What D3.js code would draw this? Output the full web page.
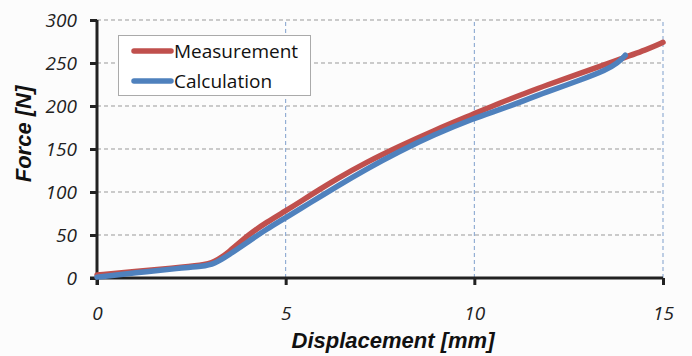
<!DOCTYPE html>
<meta charset="utf-8">
<style>
body { margin: 0; background: #fcfcfc; }
svg { display: block; }
.tick-label { font: italic 19px "Open Sans", sans-serif; fill: #222; }
.axis-title { font: bold italic 22px "Liberation Sans", Arial, sans-serif; fill: #111; }
.legend text { font: 19px "Open Sans", sans-serif; fill: #111; }
</style>
<svg width="692" height="356"></svg>
<script src="https://cdnjs.cloudflare.com/ajax/libs/d3/7.8.5/d3.min.js"></script>
<script>

// Measurement curve [displacement mm, force N]
let measurement = [
  [0, 3.5], [1, 7.5], [2, 11.5], [2.8, 15], [3.1, 18], [3.5, 30], [4, 50],
  [4.5, 65], [5, 78], [5.4, 89], [5.9, 103], [6.3, 114], [7.15, 135],
  [8, 153], [8.9, 171], [10, 191], [10.7, 204], [11.3, 214], [11.9, 224],
  [12.8, 238], [13.7, 252], [14.6, 266], [15, 274]
];

// Calculation curve
let calculation = [
  [0, 1], [1, 6], [2.2, 11.5], [2.8, 13.5], [3.1, 16], [3.5, 27], [4, 42],
  [4.5, 57], [5, 70], [5.4, 81], [5.9, 94], [6.3, 105], [7.15, 127],
  [8, 147], [8.9, 166], [10, 186], [10.7, 196], [11.3, 206], [11.9, 216],
  [12.8, 230], [13.5, 242], [13.8, 250], [14.0, 259]
];

let xTicks = [0, 5, 10, 15];
let yTicks = [0, 50, 100, 150, 200, 250, 300];

let svg = d3.select('svg');
let x = d3.scaleLinear().domain([0, 15]).range([97, 663]);
let y = d3.scaleLinear().domain([0, 300]).range([278, 20]);

// grid
svg.append('g').selectAll('line')
  .data(yTicks.slice(1))
  .enter().append('line')
    .attr('x1', x(0)).attr('x2', x(15))
    .attr('y1', d => y(d)).attr('y2', d => y(d))
    .attr('stroke', '#999').attr('stroke-dasharray', '4,3');

svg.append('g').selectAll('line')
  .data(xTicks.slice(1))
  .enter().append('line')
    .attr('x1', d => x(d)).attr('x2', d => x(d))
    .attr('y1', y(0)).attr('y2', y(300))
    .attr('stroke', '#7f9fcc').attr('stroke-dasharray', '4,3');

// axes
let xAxis = svg.append('g')
  .attr('transform', 'translate(0,' + y(0) + ')')
  .call(d3.axisBottom(x).tickValues(xTicks).tickSize(7).tickPadding(22).tickFormat(d3.format('d')));
let yAxis = svg.append('g')
  .attr('transform', 'translate(' + x(0) + ',0)')
  .call(d3.axisLeft(y).tickValues(yTicks).tickSize(7).tickPadding(13).tickFormat(d3.format('d')));

[xAxis, yAxis].forEach(a => {
  a.select('.domain').attr('stroke', '#222').attr('stroke-width', 3);
  a.selectAll('.tick line').attr('stroke', '#222').attr('stroke-width', 3);
  a.selectAll('.tick text').attr('class', 'tick-label').attr('font-family', null).attr('font-size', null);
});
xAxis.select('.domain').attr('d', 'M' + (x(0) - 7) + ',0H' + x(15));
yAxis.select('.domain').attr('d', 'M0,' + y(300) + 'V' + (y(0) + 7));

// curves
let line = d3.line()
  .x(d => x(d[0]))
  .y(d => y(d[1]))
  .curve(d3.curveBasis);

svg.append('path')
  .datum(measurement)
  .attr('d', line)
  .attr('fill', 'none')
  .attr('stroke', '#c0504d')
  .attr('stroke-width', 5.5)
  .attr('stroke-linecap', 'round');

svg.append('path')
  .datum(calculation)
  .attr('d', line)
  .attr('fill', 'none')
  .attr('stroke', '#4f81bd')
  .attr('stroke-width', 5.5)
  .attr('stroke-linecap', 'round');

// axis titles
svg.append('text')
  .attr('class', 'axis-title')
  .attr('x', 393).attr('y', 348)
  .attr('text-anchor', 'middle')
  .text('Displacement [mm]');

svg.append('text')
  .attr('class', 'axis-title')
  .attr('transform', 'translate(31,134) rotate(-90)')
  .attr('text-anchor', 'middle')
  .text('Force [N]');

// legend
let legend = svg.append('g').attr('class', 'legend');
legend.append('rect')
  .attr('x', 118.5).attr('y', 35.5)
  .attr('width', 192).attr('height', 60)
  .attr('fill', '#fff').attr('stroke', '#aaa');

let items = [['Measurement', '#c0504d'], ['Calculation', '#4f81bd']];
items.forEach((d, i) => {
  let cy = 51 + i * 30;
  legend.append('line')
    .attr('x1', 134).attr('x2', 171)
    .attr('y1', cy).attr('y2', cy)
    .attr('stroke', d[1]).attr('stroke-width', 5.5)
    .attr('stroke-linecap', 'round');
  legend.append('text')
    .attr('x', 174).attr('y', cy + 7)
    .text(d[0]);
});

</script>
